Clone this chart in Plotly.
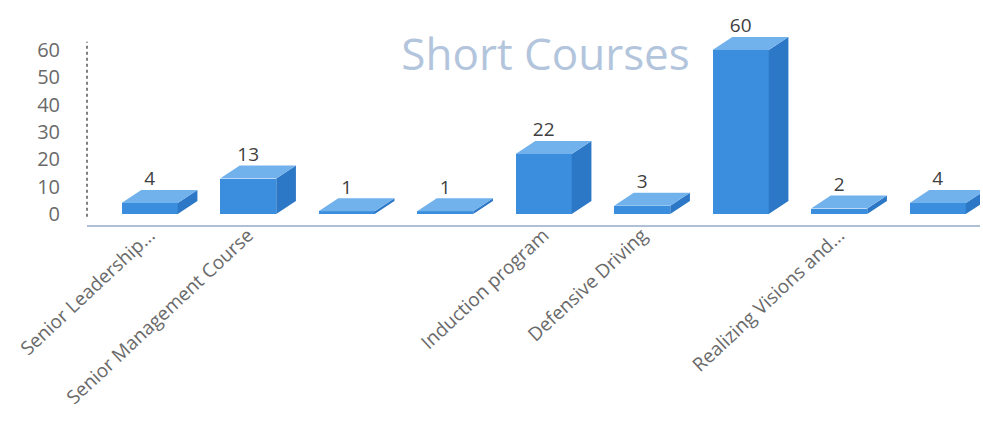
import plotly.graph_objects as go

# ---- data ----
categories = ["Senior Leadership...", "Senior Management Course", "", "",
              "Induction program", "Defensive Driving", "", "Realizing Visions and...", ""]
values = [4, 13, 1, 1, 22, 3, 60, 2, 4]
y_ticks = [0, 10, 20, 30, 40, 50, 60]

# ---- styling / pseudo-3D geometry ----
BAR_W = 0.57
DX = 0.2      # depth offset in category units
DY = 4.75     # depth offset in value units
FRONT = "#3A8EDD"
TOP = "#72B2EC"
SIDE = "#2C78C6"

xs = list(range(len(values)))

top_x, top_y, side_x, side_y = [], [], [], []
for i, v in zip(xs, values):
    l, r = i - BAR_W / 2, i + BAR_W / 2
    top_x += [l, r, r + DX, l + DX, l, None]
    top_y += [v, v, v + DY, v + DY, v, None]
    side_x += [r, r, r + DX, r + DX, r, None]
    side_y += [0, v, v + DY, DY, 0, None]

fig = go.Figure()
fig.add_trace(go.Scatter(x=side_x, y=side_y, fill="toself", mode="lines",
                         line=dict(width=0), fillcolor=SIDE, hoverinfo="skip",
                         showlegend=False))
fig.add_trace(go.Bar(x=xs, y=values, width=BAR_W, marker=dict(color=FRONT, line=dict(width=0)),
                     showlegend=False))
fig.add_trace(go.Scatter(x=top_x, y=top_y, fill="toself", mode="lines",
                         line=dict(width=0), fillcolor=TOP, hoverinfo="skip",
                         showlegend=False))
fig.add_trace(go.Scatter(x=xs, y=[v + DY for v in values], mode="text",
                         text=[str(v) for v in values], textposition="top center",
                         textfont=dict(family="Open Sans", size=19, color="#404040"),
                         cliponaxis=False, showlegend=False, hoverinfo="skip"))

# left axis line (Excel style, only spanning the value range)
fig.add_shape(type="line", xref="paper", yref="y", x0=0, x1=0, y0=-1, y1=63,
              line=dict(color="#555555", width=1.5, dash="dot"))

fig.update_layout(
    width=983, height=439,
    paper_bgcolor="white", plot_bgcolor="white",
    margin=dict(l=87, r=3, t=10, b=214),
    bargap=0,
    title=dict(text="Short Courses", x=0.555, y=0.875, xanchor="center", yanchor="middle",
               font=dict(family="Open Sans", size=44, color="#B3C5DC")),
    xaxis=dict(range=[-0.636, 8.43], tickmode="array", tickvals=xs, ticktext=categories,
               tickangle=-43, automargin=False,
               tickfont=dict(family="Open Sans", size=19, color="#6A6A6A"),
               showgrid=False, zeroline=False, showline=True, linecolor="#AEBFD6", linewidth=1.5,
               ticks="", ticklabelstandoff=-10),
    yaxis=dict(range=[-4.0, 74.6], tickmode="array", tickvals=y_ticks, automargin=False,
               tickfont=dict(family="Open Sans", size=20, color="#6A6A6A"),
               showgrid=False, zeroline=False, showline=False,
               ticks="outside", ticklen=22, tickcolor="rgba(0,0,0,0)"),
)

fig.write_html("out.html", config={"displayModeBar": False},
               post_script="document.body.style.margin='0';")
